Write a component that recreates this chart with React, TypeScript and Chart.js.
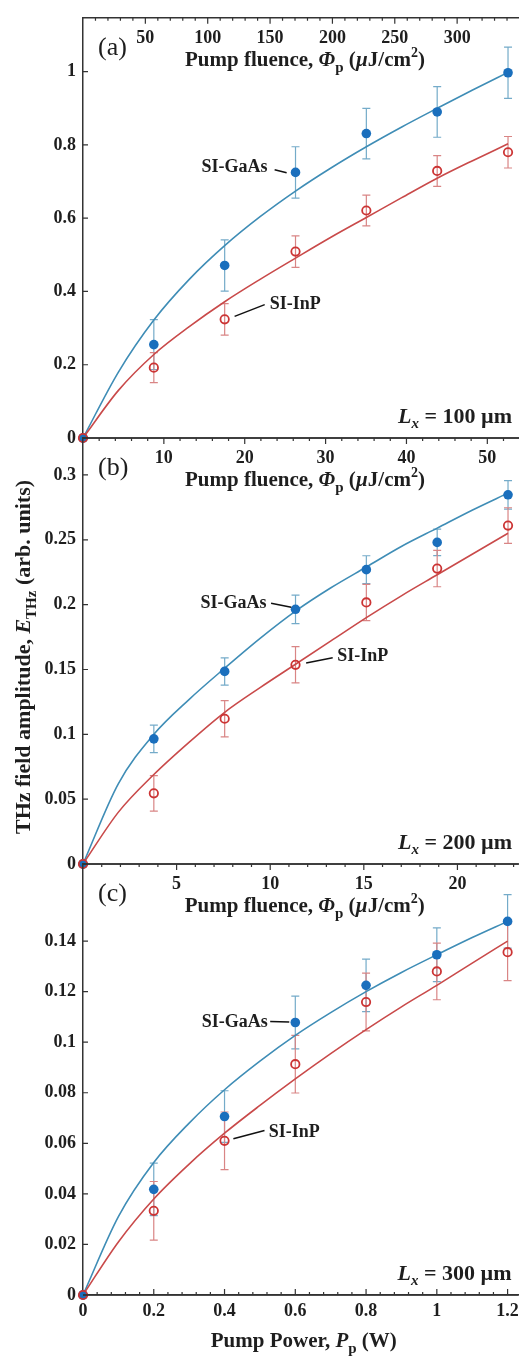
import React, { useEffect, useRef } from "react";
import { Chart, registerables } from "chart.js";
Chart.register(...registerables);

const SERIF = '"Liberation Serif", "Times New Roman", serif';

// ---------- shared axis values ----------
const powerW = [0, 0.2, 0.4, 0.6, 0.8, 1.0, 1.2];
const fitPowerW = [0, 0.1, 0.2, 0.3, 0.4, 0.5, 0.6, 0.7, 0.8, 0.9, 1.0, 1.1, 1.2];
const powerTicks = [0, 0.2, 0.4, 0.6, 0.8, 1, 1.2];
const powerMinorStep = 0.04;
const powerMax = 1.231;

// ---------- (a) Lx = 100 um ----------
const gaasA = [0, 0.255, 0.471, 0.725, 0.831, 0.89, 0.997];
const gaasErrA = [0, 0.068, 0.07, 0.07, 0.069, 0.069, 0.07];
const inpA = [0, 0.192, 0.324, 0.509, 0.621, 0.729, 0.78];
const inpErrA = [0, 0.041, 0.043, 0.043, 0.042, 0.042, 0.043];
const gaasFitA = [0, 0.18, 0.322, 0.433, 0.525, 0.604, 0.674, 0.737, 0.795, 0.849, 0.9, 0.95, 0.998];
const inpFitA = [0, 0.13, 0.228, 0.304, 0.372, 0.433, 0.491, 0.548, 0.602, 0.656, 0.709, 0.757, 0.803];
const yTicksA = [0, 0.2, 0.4, 0.6, 0.8, 1];
const fluenceTicksA = [50, 100, 150, 200, 250, 300];

// ---------- (b) Lx = 200 um ----------
const gaasB = [0, 0.0965, 0.1485, 0.1964, 0.227, 0.248, 0.2847];
const gaasErrB = [0, 0.0106, 0.0105, 0.011, 0.0107, 0.0102, 0.011];
const inpB = [0, 0.0545, 0.112, 0.1536, 0.2017, 0.2278, 0.261];
const inpErrB = [0, 0.0137, 0.014, 0.014, 0.014, 0.014, 0.0137];
const gaasFitB = [0, 0.062, 0.1, 0.127, 0.151, 0.174, 0.195, 0.213, 0.229, 0.245, 0.259, 0.273, 0.286];
const inpFitB = [0, 0.04, 0.069, 0.094, 0.117, 0.136, 0.154, 0.172, 0.19, 0.207, 0.223, 0.239, 0.255];
const yTicksB = [0, 0.05, 0.1, 0.15, 0.2, 0.25, 0.3];
const fluenceTicksB = [10, 20, 30, 40, 50];

// ---------- (c) Lx = 300 um ----------
const gaasC = [0, 0.0418, 0.0706, 0.1078, 0.1225, 0.1346, 0.1478];
const gaasErrC = [0, 0.0104, 0.0102, 0.0104, 0.0104, 0.0106, 0.0106];
const inpC = [0, 0.0333, 0.061, 0.0913, 0.1159, 0.128, 0.1356];
const inpErrC = [0, 0.0116, 0.0114, 0.0114, 0.0114, 0.0112, 0.0112];
const gaasFitC = [0, 0.031, 0.0524, 0.068, 0.0812, 0.0925, 0.1027, 0.1117, 0.12, 0.1276, 0.1346, 0.1414, 0.1478];
const inpFitC = [0, 0.021, 0.038, 0.0518, 0.064, 0.075, 0.0855, 0.0955, 0.105, 0.114, 0.1225, 0.1313, 0.14];
const yTicksC = [0, 0.02, 0.04, 0.06, 0.08, 0.1, 0.12, 0.14];
const fluenceTicksC = [5, 10, 15, 20];

// ---------- styles ----------
const AXIS = "#333333";
const TEXT = "#1e1e1e";
const GAAS_PT = "#1a6fbd";
const GAAS_LINE = "#3f8db6";
const GAAS_ERR = "#74abc9";
const INP_PT = "#cc3434";
const INP_LINE = "#c94a4a";
const INP_ERR = "#d98585";

type Seg = { t: string; font: string; dy?: number };
const b = (s: number) => `bold ${s}px ${SERIF}`;
const bi = (s: number) => `italic bold ${s}px ${SERIF}`;

function drawRich(ctx: CanvasRenderingContext2D, segs: Seg[], x: number, y: number, align: "left" | "center" | "right") {
  let total = 0;
  const widths = segs.map((s) => {
    ctx.font = s.font;
    const w = ctx.measureText(s.t).width;
    total += w;
    return w;
  });
  let cx = align === "left" ? x : align === "center" ? x - total / 2 : x - total;
  ctx.textAlign = "left";
  ctx.textBaseline = "alphabetic";
  segs.forEach((s, i) => {
    ctx.font = s.font;
    ctx.fillText(s.t, cx, y + (s.dy || 0));
    cx += widths[i];
  });
}

const fmt = (v: number) => String(+Number(v).toFixed(4));

type Ann = { tx: number; ty: number; l1: [number, number]; l2: [number, number] };
type Panel = {
  tag: string;
  lx: string;
  gaas: number[];
  gaasErr: number[];
  inp: number[];
  inpErr: number[];
  gaasFit: number[];
  inpFit: number[];
  yMax: number;
  yTicks: number[];
  fluencePerW: number;
  fluenceTicks: number[];
  fluenceMinor: number;
  gaasAnn: Ann;
  inpAnn: Ann;
  canvasTop: number;
  canvasHeight: number;
  areaTop: number;
  areaBottom: number;
  bottomAxis: boolean;
  yLabel: boolean;
};

const panels: Panel[] = [
  {
    tag: "(a)", lx: " = 100 µm",
    gaas: gaasA, gaasErr: gaasErrA, inp: inpA, inpErr: inpErrA, gaasFit: gaasFitA, inpFit: inpFitA,
    yMax: 1.147, yTicks: yTicksA, fluencePerW: 284, fluenceTicks: fluenceTicksA, fluenceMinor: 10,
    gaasAnn: { tx: 0.521, ty: 0.743, l1: [0.541, 0.732], l2: [0.575, 0.724] },
    inpAnn: { tx: 0.527, ty: 0.369, l1: [0.428, 0.332], l2: [0.513, 0.364] },
    canvasTop: 0, canvasHeight: 460, areaTop: 8, areaBottom: 438, bottomAxis: false, yLabel: false,
  },
  {
    tag: "(b)", lx: " = 200 µm",
    gaas: gaasB, gaasErr: gaasErrB, inp: inpB, inpErr: inpErrB, gaasFit: gaasFitB, inpFit: inpFitB,
    yMax: 0.3285, yTicks: yTicksB, fluencePerW: 43.8, fluenceTicks: fluenceTicksB, fluenceMinor: 2,
    gaasAnn: { tx: 0.518, ty: 0.202, l1: [0.531, 0.201], l2: [0.588, 0.198] },
    inpAnn: { tx: 0.718, ty: 0.161, l1: [0.63, 0.155], l2: [0.705, 0.159] },
    canvasTop: 420, canvasHeight: 465, areaTop: 438, areaBottom: 864, bottomAxis: false, yLabel: true,
  },
  {
    tag: "(c)", lx: " = 300 µm",
    gaas: gaasC, gaasErr: gaasErrC, inp: inpC, inpErr: inpErrC, gaasFit: gaasFitC, inpFit: inpFitC,
    yMax: 0.1705, yTicks: yTicksC, fluencePerW: 18.9, fluenceTicks: fluenceTicksC, fluenceMinor: 1,
    gaasAnn: { tx: 0.522, ty: 0.1085, l1: [0.529, 0.1082], l2: [0.583, 0.108] },
    inpAnn: { tx: 0.525, ty: 0.0649, l1: [0.425, 0.0618], l2: [0.513, 0.0651] },
    canvasTop: 845, canvasHeight: 514, areaTop: 864, areaBottom: 1295, bottomAxis: true, yLabel: false,
  },
];

function makePlugin(p: Panel) {
  return {
    id: "decor" + p.tag,
    beforeDatasetsDraw(chart: any) {
      const { ctx } = chart;
      const x = chart.scales.x;
      const y = chart.scales.y;
      const drawErr = (vals: number[], errs: number[], color: string) => {
        ctx.save();
        ctx.strokeStyle = color;
        ctx.lineWidth = 1.2;
        powerW.forEach((pw, i) => {
          if (!errs[i]) return;
          const px = x.getPixelForValue(pw);
          const y1 = y.getPixelForValue(vals[i] - errs[i]);
          const y2 = y.getPixelForValue(vals[i] + errs[i]);
          ctx.beginPath();
          ctx.moveTo(px, y1);
          ctx.lineTo(px, y2);
          ctx.moveTo(px - 4, y1);
          ctx.lineTo(px + 4, y1);
          ctx.moveTo(px - 4, y2);
          ctx.lineTo(px + 4, y2);
          ctx.stroke();
        });
        ctx.restore();
      };
      drawErr(p.gaas, p.gaasErr, GAAS_ERR);
      drawErr(p.inp, p.inpErr, INP_ERR);
    },
    afterDraw(chart: any) {
      const { ctx, chartArea } = chart;
      const x = chart.scales.x;
      const y = chart.scales.y;
      const { left, right, top, bottom } = chartArea;
      ctx.save();
      ctx.strokeStyle = AXIS;
      ctx.fillStyle = TEXT;
      ctx.lineWidth = 1.5;
      // frame top and bottom
      ctx.beginPath();
      ctx.moveTo(left, top);
      ctx.lineTo(right, top);
      ctx.moveTo(left, bottom);
      ctx.lineTo(right, bottom);
      ctx.stroke();
      // y ticks (inward)
      ctx.lineWidth = 1.2;
      ctx.beginPath();
      p.yTicks.forEach((v) => {
        const py = y.getPixelForValue(v);
        ctx.moveTo(left, py);
        ctx.lineTo(left + 5, py);
      });
      ctx.stroke();
      // fluence axis on top (ticks hanging down)
      const fMax = p.fluencePerW * x.max;
      const fx = (f: number) => x.getPixelForValue(f / p.fluencePerW);
      ctx.beginPath();
      for (let i = 1; i * p.fluenceMinor <= fMax; i++) {
        const f = i * p.fluenceMinor;
        const major = p.fluenceTicks.indexOf(f) >= 0;
        ctx.moveTo(fx(f), top);
        ctx.lineTo(fx(f), top + (major ? 6 : 3));
      }
      ctx.stroke();
      ctx.font = b(18);
      ctx.textAlign = "center";
      ctx.textBaseline = "alphabetic";
      p.fluenceTicks.forEach((f) => ctx.fillText(String(f), fx(f), top + 25));
      drawRich(
        ctx,
        [
          { t: "Pump fluence, ", font: b(21) },
          { t: "Φ", font: bi(21) },
          { t: "p", font: b(15), dy: 6 },
          { t: " (", font: b(21) },
          { t: "µ", font: bi(21) },
          { t: "J/cm", font: b(21) },
          { t: "2", font: b(14), dy: -9 },
          { t: ")", font: b(21) },
        ],
        (left + right) / 2 + 4,
        top + 48,
        "center"
      );
      // panel tag
      ctx.font = `26px ${SERIF}`;
      ctx.textAlign = "left";
      ctx.fillText(p.tag, left + 15, top + 37);
      // Lx label
      drawRich(
        ctx,
        [
          { t: "L", font: bi(22) },
          { t: "x", font: bi(15), dy: 5 },
          { t: p.lx, font: b(22) },
        ],
        right - 7,
        bottom - 15,
        "right"
      );
      // annotations
      const annotate = (a: Ann, text: string, align: "left" | "right") => {
        ctx.font = b(18);
        ctx.textAlign = align;
        ctx.textBaseline = "alphabetic";
        ctx.fillText(text, x.getPixelForValue(a.tx), y.getPixelForValue(a.ty) + 6);
        ctx.lineWidth = 1.5;
        ctx.strokeStyle = "#111";
        ctx.beginPath();
        ctx.moveTo(x.getPixelForValue(a.l1[0]), y.getPixelForValue(a.l1[1]));
        ctx.lineTo(x.getPixelForValue(a.l2[0]), y.getPixelForValue(a.l2[1]));
        ctx.stroke();
      };
      annotate(p.gaasAnn, "SI-GaAs", "right");
      annotate(p.inpAnn, "SI-InP", "left");
      ctx.strokeStyle = AXIS;
      // bottom power axis ticks (inward)
      if (p.bottomAxis) {
        ctx.lineWidth = 1.2;
        ctx.beginPath();
        for (let i = 1; i * powerMinorStep <= x.max + 1e-9; i++) {
          const v = i * powerMinorStep;
          const major = powerTicks.some((t) => Math.abs(t - v) < 1e-6);
          const px = x.getPixelForValue(v);
          ctx.moveTo(px, bottom);
          ctx.lineTo(px, bottom - (major ? 6 : 3));
        }
        ctx.stroke();
        drawRich(
          ctx,
          [
            { t: "Pump Power, ", font: b(21) },
            { t: "P", font: bi(21) },
            { t: "p", font: b(15), dy: 6 },
            { t: " (W)", font: b(21) },
          ],
          (left + right) / 2 + 3,
          bottom + 52,
          "center"
        );
      }
      // shared y-axis title
      if (p.yLabel) {
        ctx.save();
        ctx.translate(22, 657 - p.canvasTop);
        ctx.rotate(-Math.PI / 2);
        drawRich(
          ctx,
          [
            { t: "THz field amplitude, ", font: b(22) },
            { t: "E", font: bi(22) },
            { t: "THz", font: b(15), dy: 6 },
            { t: " (arb. units)", font: b(22) },
          ],
          0,
          7.5,
          "center"
        );
        ctx.restore();
      }
      ctx.restore();
    },
  };
}

function PanelChart({ p }: { p: Panel }) {
  const ref = useRef<HTMLCanvasElement | null>(null);
  useEffect(() => {
    if (!ref.current) return;
    const tickFont = { family: SERIF, size: 18, weight: "bold" as const };
    const xScale: any = {
      type: "linear",
      min: 0,
      max: powerMax,
      display: p.bottomAxis,
      afterBuildTicks: (s: any) => {
        s.ticks = powerTicks.map((v) => ({ value: v }));
      },
      grid: { display: false, drawTicks: false },
      border: { display: true, color: AXIS, width: 1.5 },
      ticks: { font: tickFont, color: TEXT, padding: 6, maxRotation: 0, autoSkip: false, callback: (v: any) => fmt(v) },
    };
    if (p.bottomAxis) xScale.afterFit = (s: any) => { s.height = 64; };
    const chart = new Chart(ref.current, {
      type: "line",
      data: {
        datasets: [
          {
            label: "SI-InP",
            data: powerW.map((xv, i) => ({ x: xv, y: p.inp[i] })),
            showLine: false,
            pointStyle: "circle",
            pointRadius: 4.2,
            pointBorderWidth: 1.8,
            pointBorderColor: INP_PT,
            pointBackgroundColor: "rgba(255,255,255,0)",
            order: 0,
            clip: false,
          } as any,
          {
            label: "SI-GaAs",
            data: powerW.map((xv, i) => ({ x: xv, y: p.gaas[i] })),
            showLine: false,
            pointStyle: "circle",
            pointRadius: 4.8,
            pointBorderWidth: 0,
            pointBorderColor: GAAS_PT,
            pointBackgroundColor: GAAS_PT,
            order: 1,
            clip: false,
          } as any,
          {
            label: "SI-InP fit",
            data: fitPowerW.map((xv, i) => ({ x: xv, y: p.inpFit[i] })),
            borderColor: INP_LINE,
            borderWidth: 1.6,
            pointRadius: 0,
            cubicInterpolationMode: "monotone",
            order: 2,
          } as any,
          {
            label: "SI-GaAs fit",
            data: fitPowerW.map((xv, i) => ({ x: xv, y: p.gaasFit[i] })),
            borderColor: GAAS_LINE,
            borderWidth: 1.6,
            pointRadius: 0,
            cubicInterpolationMode: "monotone",
            order: 3,
          } as any,
        ],
      },
      options: {
        animation: false,
        responsive: false,
        devicePixelRatio: 1,
        layout: {
          padding: {
            top: p.areaTop - p.canvasTop,
            bottom: p.bottomAxis ? 0 : p.canvasTop + p.canvasHeight - p.areaBottom,
            left: 0,
            right: 5,
          },
        },
        plugins: { legend: { display: false }, tooltip: { enabled: false } },
        scales: {
          x: xScale,
          y: {
            type: "linear",
            min: 0,
            max: p.yMax,
            afterBuildTicks: (s: any) => {
              s.ticks = p.yTicks.map((v) => ({ value: v }));
            },
            afterFit: (s: any) => {
              s.width = 83;
            },
            grid: { display: false, drawTicks: false },
            border: { display: true, color: AXIS, width: 1.5 },
            ticks: { font: tickFont, color: TEXT, padding: 7, autoSkip: false, callback: (v: any) => fmt(v) },
          } as any,
        },
      },
      plugins: [makePlugin(p) as any],
    });
    return () => chart.destroy();
  }, [p]);
  return (
    <canvas
      ref={ref}
      width={525}
      height={p.canvasHeight}
      style={{ position: "absolute", left: 0, top: p.canvasTop, width: 525, height: p.canvasHeight }}
    />
  );
}

export default function App() {
  return (
    <div style={{ position: "absolute", left: 0, top: 0, width: 525, height: 1359, background: "#fff" }}>
      {panels.map((p) => (
        <PanelChart key={p.tag} p={p} />
      ))}
    </div>
  );
}
